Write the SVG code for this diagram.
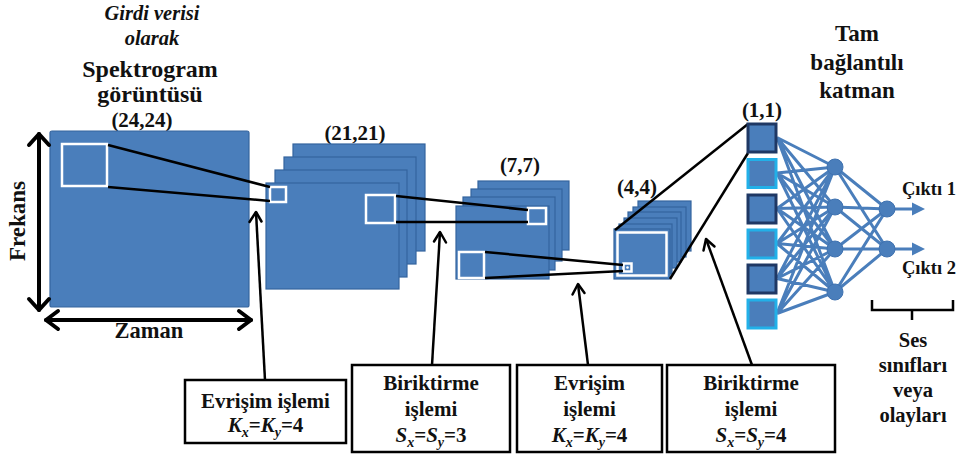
<svg xmlns="http://www.w3.org/2000/svg" width="956" height="457" viewBox="0 0 956 457">
<defs>
<style>
text{font-family:"Liberation Serif","Times New Roman",serif;font-weight:bold;fill:#111;}
.c{text-anchor:middle;}
.blk{fill:#4a7ebb;stroke:#34649e;stroke-width:1.2;}
.win{fill:none;stroke:#fff;stroke-width:2.5;}
.ln{stroke:#000;stroke-width:2.5;fill:none;}
.net{stroke:#4a7ebb;stroke-width:3;fill:none;}
.nd{fill:#4a7ebb;stroke:#3f72b0;stroke-width:1;}
.box{fill:#fff;stroke:#000;stroke-width:2.5;}
.chev{fill:none;stroke:#000;stroke-width:2.5;stroke-linecap:round;stroke-linejoin:round;}
.bchev{fill:none;stroke:#000;stroke-width:4;stroke-linecap:round;stroke-linejoin:round;}
.sqd{fill:#4a7ebb;stroke:#1f3864;stroke-width:3;}
.sqc{fill:#4a7ebb;stroke:#22b0e8;stroke-width:3;}
</style>
</defs>

<g id="input">
<text class="c" x="152" y="20" font-size="20.5" font-style="italic">Girdi verisi</text>
<text class="c" x="152" y="45" font-size="20.5" font-style="italic">olarak</text>
<text class="c" x="150" y="77" font-size="24">Spektrogram</text>
<text class="c" x="150" y="102" font-size="24">görüntüsü</text>
<text class="c" x="142" y="127" font-size="21">(24,24)</text>
<rect class="blk" x="50" y="131" width="199" height="176" rx="2"/>
<rect class="win" x="62" y="144" width="45" height="42"/>
<line class="bchev" x1="39" y1="134" x2="39" y2="310"/>
<polyline class="bchev" points="29,145 39,134 49,145"/>
<polyline class="bchev" points="29,299 39,310 49,299"/>
<line class="bchev" x1="46" y1="320" x2="251" y2="320"/>
<polyline class="bchev" points="58,311 46,320 58,329"/>
<polyline class="bchev" points="239,311 251,320 239,329"/>
<text class="c" transform="translate(25,221) rotate(-90)" font-size="23">Frekans</text>
<text class="c" x="149" y="338" font-size="22.5">Zaman</text>
</g>

<g id="layer21">
<text class="c" x="355" y="140" font-size="21">(21,21)</text>
<rect class="blk" x="293" y="144" width="132" height="107"/>
<rect class="blk" x="284" y="157" width="132" height="107"/>
<rect class="blk" x="275" y="170" width="132" height="107"/>
<rect class="blk" x="266" y="183" width="133" height="106"/>
<rect class="win" x="270" y="187" width="16" height="15"/>
<rect class="win" x="366" y="195" width="29" height="28"/>
</g>

<g id="layer7">
<text class="c" x="520" y="172" font-size="21">(7,7)</text>
<rect class="blk" x="478" y="181" width="91" height="69"/>
<rect class="blk" x="471" y="189" width="91" height="72"/>
<rect class="blk" x="463" y="197" width="92" height="73"/>
<rect class="blk" x="456" y="206" width="93" height="73"/>
<rect class="win" x="528" y="208" width="18" height="16"/>
<rect class="win" x="459" y="252" width="25" height="26"/>
</g>

<g id="layer4">
<text class="c" x="637" y="194" font-size="21">(4,4)</text>
<rect class="blk" x="638" y="201" width="53" height="50"/>
<rect class="blk" x="633" y="207" width="53" height="50"/>
<rect class="blk" x="628" y="212" width="53" height="50"/>
<rect class="blk" x="624" y="218" width="53" height="50"/>
<rect class="blk" x="619" y="224" width="53" height="50"/>
<rect class="blk" x="614" y="229" width="56" height="50"/>
<rect class="win" x="617.5" y="232.5" width="49" height="43" stroke-width="2"/>
<rect class="win" x="623.5" y="263.5" width="8" height="8" stroke-width="1.8"/>
<circle cx="627.5" cy="267.5" r="1.3" fill="#fff"/>
</g>

<g id="connectors">
<line class="ln" x1="108" y1="145" x2="270" y2="187"/>
<line class="ln" x1="108" y1="187" x2="270" y2="201"/>
<line class="ln" x1="396" y1="196" x2="528" y2="210"/>
<line class="ln" x1="396" y1="222" x2="528" y2="222"/>
<line class="ln" x1="485" y1="252" x2="623" y2="265"/>
<line class="ln" x1="485" y1="278" x2="623" y2="271"/>
<line class="ln" x1="615" y1="230" x2="748" y2="124"/>
<line class="ln" x1="670" y1="279" x2="748" y2="153"/>
<line class="ln" x1="265" y1="380" x2="256" y2="212"/>
<polyline class="chev" points="249.5,222 256,212 261.5,221.5"/>
<line class="ln" x1="432" y1="365" x2="440" y2="232"/>
<polyline class="chev" points="434,241.5 440,232 446,242.5"/>
<line class="ln" x1="588" y1="365" x2="578" y2="284"/>
<polyline class="chev" points="572.5,294.5 578,284 584.5,293"/>
<line class="ln" x1="752" y1="365" x2="706" y2="239"/>
<polyline class="chev" points="703.5,250.5 706,239 714.5,246.5"/>
</g>

<g id="net-lines">
<path class="net" d="M777,137.5L835,167M777,137.5L835,207M777,137.5L835,249M777,137.5L835,292
M777,173L835,167M777,173L835,207M777,173L835,249M777,173L835,292
M777,208.5L835,167M777,208.5L835,207M777,208.5L835,249M777,208.5L835,292
M777,243.5L835,167M777,243.5L835,207M777,243.5L835,249M777,243.5L835,292
M777,278.5L835,167M777,278.5L835,207M777,278.5L835,249M777,278.5L835,292
M777,313.5L835,167M777,313.5L835,207M777,313.5L835,249M777,313.5L835,292
M835,167L887,209M835,167L887,249M835,207L887,209M835,207L887,249
M835,249L887,209M835,249L887,249M835,292L887,209M835,292L887,249
M887,209L914,209M887,249L914,249"/>
<polygon points="912,202.5 925,209 912,215.5" fill="#4a7ebb"/>
<polygon points="912,242.5 925,249 912,255.5" fill="#4a7ebb"/>
</g>

<g id="fc-input">
<text class="c" x="762" y="117" font-size="21">(1,1)</text>
<rect class="sqd" x="748" y="124" width="28" height="28"/>
<rect class="sqc" x="748" y="159.5" width="28" height="28"/>
<rect class="sqd" x="748" y="195" width="28" height="28"/>
<rect class="sqc" x="748" y="230" width="28" height="28"/>
<rect class="sqd" x="748" y="265" width="28" height="28"/>
<rect class="sqc" x="748" y="300" width="28" height="28"/>
</g>

<g id="fc-hidden">
<circle class="nd" cx="835" cy="167" r="8"/>
<circle class="nd" cx="835" cy="207" r="8"/>
<circle class="nd" cx="835" cy="249" r="8"/>
<circle class="nd" cx="835" cy="292" r="8"/>
</g>

<g id="fc-output">
<circle class="nd" cx="887" cy="209" r="8"/>
<circle class="nd" cx="887" cy="249" r="8"/>
<text x="902" y="195" font-size="18.5">Çıktı 1</text>
<text x="902" y="274" font-size="18.5">Çıktı 2</text>
</g>

<g id="fc-title">
<text class="c" x="857" y="41" font-size="23">Tam</text>
<text class="c" x="857" y="70" font-size="23">bağlantılı</text>
<text class="c" x="857" y="98" font-size="23">katman</text>
</g>

<g id="classes">
<path d="M872,300V310H912V320M912,310H953V300" fill="none" stroke="#000" stroke-width="2.5"/>
<text class="c" x="913" y="347" font-size="20.5">Ses</text>
<text class="c" x="913" y="372" font-size="20.5">sınıfları</text>
<text class="c" x="913" y="397" font-size="20.5">veya</text>
<text class="c" x="913" y="422" font-size="20.5">olayları</text>
</g>

<g id="box1">
<rect class="box" x="185" y="380" width="161" height="63"/>
<text class="c" x="265.5" y="408" font-size="21">Evrişim işlemi</text>
<text class="c" x="265.5" y="432" font-size="21" font-style="italic">K<tspan dy="5" font-size="14">x</tspan><tspan dy="-5" font-style="normal">=</tspan>K<tspan dy="5" font-size="14">y</tspan><tspan dy="-5" font-style="normal">=4</tspan></text>
</g>

<g id="box2">
<rect class="box" x="352" y="365" width="158" height="87"/>
<text class="c" x="431" y="390" font-size="21">Biriktirme</text>
<text class="c" x="431" y="416" font-size="21">işlemi</text>
<text class="c" x="431" y="442" font-size="21" font-style="italic">S<tspan dy="5" font-size="14">x</tspan><tspan dy="-5" font-style="normal">=</tspan>S<tspan dy="5" font-size="14">y</tspan><tspan dy="-5" font-style="normal">=3</tspan></text>
</g>

<g id="box3">
<rect class="box" x="517" y="365" width="145" height="87"/>
<text class="c" x="589.5" y="390" font-size="21">Evrişim</text>
<text class="c" x="589.5" y="416" font-size="21">işlemi</text>
<text class="c" x="589.5" y="442" font-size="21" font-style="italic">K<tspan dy="5" font-size="14">x</tspan><tspan dy="-5" font-style="normal">=</tspan>K<tspan dy="5" font-size="14">y</tspan><tspan dy="-5" font-style="normal">=4</tspan></text>
</g>

<g id="box4">
<rect class="box" x="667" y="365" width="168" height="87"/>
<text class="c" x="751" y="390" font-size="21">Biriktirme</text>
<text class="c" x="751" y="416" font-size="21">işlemi</text>
<text class="c" x="751" y="442" font-size="21" font-style="italic">S<tspan dy="5" font-size="14">x</tspan><tspan dy="-5" font-style="normal">=</tspan>S<tspan dy="5" font-size="14">y</tspan><tspan dy="-5" font-style="normal">=4</tspan></text>
</g>
</svg>
